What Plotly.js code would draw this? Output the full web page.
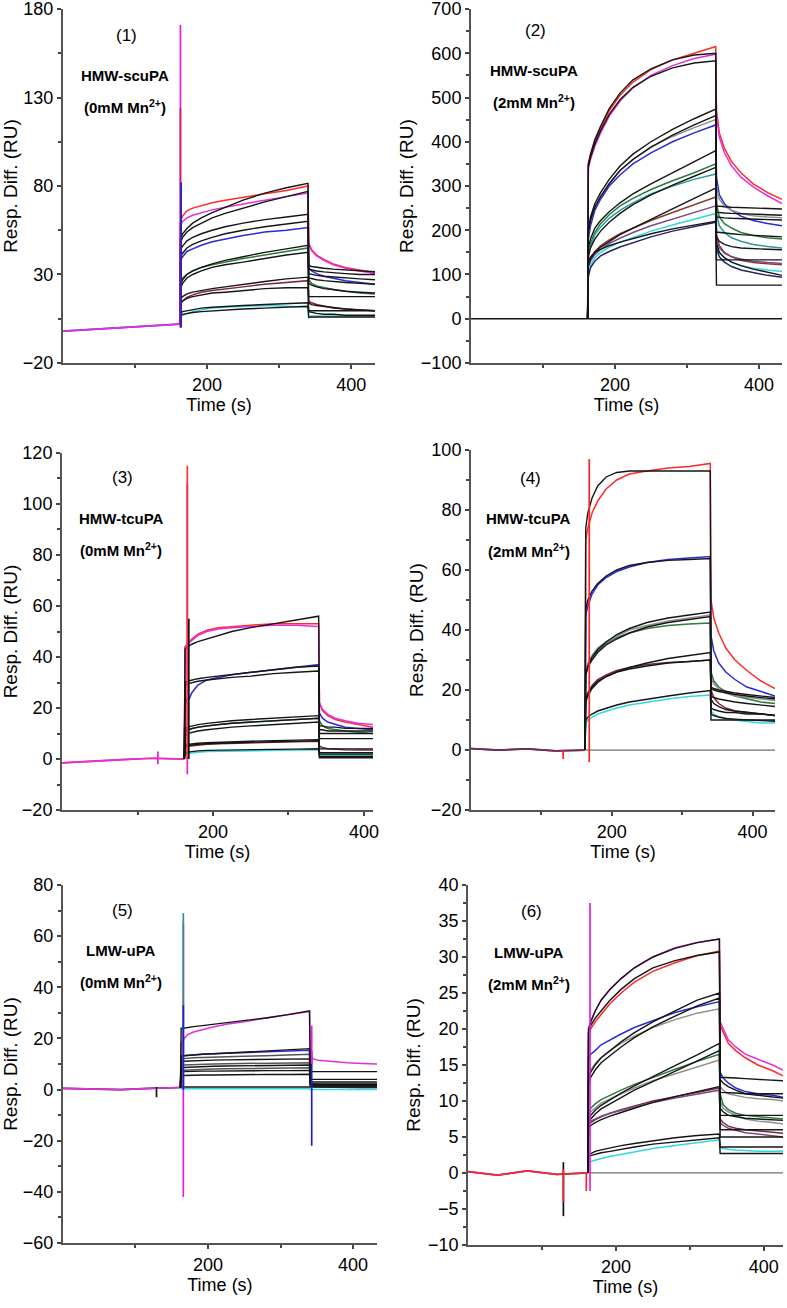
<!DOCTYPE html>
<html>
<head>
<meta charset="utf-8">
<script src="https://cdn.plot.ly/plotly-3.0.1.min.js"></script>
<style>
  body { margin: 0; background: #fff; }
  #chart { width: 787px; height: 1308px; }
</style>
</head>
<body>
<div id="chart"></div>
<script>
// shared sample times: association phase
var onT = [163, 166, 172, 180, 192, 207, 225, 250, 280, 310, 340];
var baseT = [0, 40, 80, 120, 162];

// ---- panel 1 : HMW-scuPA, 0mM Mn
var off1T = [341, 345, 352, 362, 375, 392, 412, 433];
var base1 = [-2, -1, -0.3, 0.8, 2];
var p1Red = [60, 63, 66, 67.5, 69, 70.5, 72, 73.5, 75.5, 77.5, 80];
var p1RedOff = [48, 44, 41, 38.5, 36, 34, 32.5, 31];
var p1Mag = [58, 60, 62, 63.5, 65, 66.5, 68, 70, 72, 74, 76];
var p1MagOff = [47, 43.5, 40.5, 38, 35.5, 33.5, 32, 30.5];
var p1Blue = [38, 40, 43, 44.5, 46.5, 48.5, 50, 52, 54, 55, 56.5];
var p1BlueOff = [34, 32, 30.5, 29, 28, 26.5, 25.5, 24.5];
var p1Green = [26, 28, 30, 32, 34, 35.5, 37, 39, 41, 43, 45];
var p1GreenOff = [27, 25, 23.5, 22.5, 21.5, 20.5, 19.5, 19];
var p1Maroon = [13, 15, 17, 18.5, 20, 21, 22, 23, 24.5, 25.5, 26.5];
var p1MaroonOff = [15, 14, 13, 12, 11, 10.5, 10, 9.5];
var p1Cyan = [6, 7, 8, 9, 10, 11, 11.5, 12, 12.5, 12, 11.5];
var p1CyanOff = [5.5, 6.5, 6.5, 6.5, 6.5, 6.5, 6.5, 6.5];
var p1Fits = [
  [50, 53, 56, 59, 62, 65, 68, 72, 76, 79, 81.5], [35, 34.5, 34, 33.5, 33, 32.5, 32, 31.5],
  [48, 51, 54, 56.5, 59, 62, 64.5, 67.5, 71, 74, 77], [33, 32.5, 32, 31.5, 31, 30.5, 30, 30],
  [44, 46, 49, 51, 53, 55, 57, 59, 61, 62.5, 64], [30.5, 30, 29.5, 29, 28.5, 28, 27.5, 27],
  [40, 42, 45, 47, 49, 51, 53, 55, 57, 58.5, 60], [28, 27.5, 27, 26.5, 26, 25.5, 25, 24.5],
  [24, 27, 30, 32, 34, 36, 38, 40, 42.5, 44.5, 46.5], [25, 24, 23, 22, 21.5, 20.5, 20, 19.5],
  [22, 25, 28, 30, 32, 34, 35.5, 37, 39, 41, 42.5], [17.5, 17.5, 17.5, 17.5, 17.5, 17.5, 17.5, 17.5],
  [16, 17.5, 19, 20, 21, 22, 23, 24.5, 26, 27.5, 28.5], [14, 13, 12.5, 12, 11, 10.5, 10, 9.5],
  [14, 15, 16.5, 17.5, 18.5, 19.5, 20, 21, 22, 22.5, 22.5], [9.5, 9.5, 9.5, 9.5, 9.5, 9.5, 9.5, 9.5],
  [8, 9, 9.5, 10, 11, 11.5, 12, 12.5, 13, 13.5, 14], [9, 8.5, 8, 7.5, 7.5, 7, 7, 7],
  [7, 7.5, 8, 8.5, 9, 9.5, 10, 10.5, 11, 11.5, 12], [6, 6, 6, 6, 6, 6, 6, 6]
];

// ---- panel 2 : HMW-scuPA, 2mM Mn
var off2T = [341, 345, 352, 362, 375, 392, 412, 432];
var p2Red = [350, 370, 400, 430, 470, 505, 535, 563, 585, 600, 615];
var p2RedOff = [470, 420, 385, 355, 330, 305, 285, 270];
var p2Mag = [340, 360, 390, 420, 458, 492, 522, 550, 572, 588, 598];
var p2MagOff = [460, 410, 375, 345, 320, 298, 278, 260];
var p2Blue = [180, 210, 245, 270, 300, 325, 350, 375, 400, 420, 438];
var p2BlueOff = [320, 280, 260, 245, 232, 222, 215, 210];
var p2Gray = [195, 222, 252, 276, 305, 335, 360, 388, 412, 432, 450];
var p2GrayOff = [300, 270, 255, 245, 238, 233, 230, 228];
var p2Green = [150, 170, 195, 215, 235, 255, 272, 292, 312, 330, 350];
var p2GreenOff = [260, 230, 215, 205, 195, 188, 183, 180];
var p2Teal = [145, 165, 190, 207, 227, 245, 262, 282, 300, 315, 327];
var p2TealOff = [240, 210, 195, 183, 175, 168, 163, 160];
var p2Brown = [120, 135, 152, 165, 178, 192, 205, 222, 240, 258, 275];
var p2BrownOff = [190, 165, 150, 140, 132, 127, 124, 122];
var p2Purple = [115, 130, 145, 157, 170, 182, 195, 210, 225, 240, 255];
var p2PurpleOff = [180, 160, 148, 140, 135, 130, 127, 125];
var p2Cyan = [100, 120, 138, 150, 162, 173, 184, 198, 212, 225, 238];
var p2CyanOff = [170, 150, 138, 128, 120, 114, 110, 107];
var p2Navy = [95, 115, 130, 142, 152, 162, 172, 185, 198, 208, 218];
var p2NavyOff = [160, 140, 128, 118, 110, 104, 98, 94];
var p2Fits = [
  [350, 372, 405, 435, 475, 510, 540, 565, 585, 596, 600], [255, 254, 253, 252, 251, 250, 249, 248],
  [345, 365, 395, 425, 462, 495, 523, 548, 567, 578, 583], [241, 240, 239, 238, 237, 236, 235, 234],
  [200, 230, 260, 285, 315, 345, 372, 400, 428, 452, 474], [230, 229, 228, 227, 226, 225, 224, 223],
  [195, 222, 252, 276, 305, 335, 360, 388, 415, 438, 459], [196, 195, 193, 192, 190, 188, 186, 185],
  [160, 180, 205, 222, 242, 262, 282, 305, 330, 355, 380], [133, 133, 133, 133, 133, 133, 133, 133],
  [140, 160, 180, 198, 218, 238, 258, 280, 302, 322, 342], [185, 175, 168, 163, 160, 158, 157, 156],
  [120, 135, 150, 162, 175, 190, 205, 225, 248, 272, 295], [170, 150, 138, 128, 120, 112, 105, 98],
  [130, 140, 150, 157, 165, 173, 181, 192, 203, 212, 220], [76, 76, 76, 76, 76, 76, 76, 76]
];

// ---- panel 3 : HMW-tcuPA, 0mM Mn
var off3T = [341, 345, 352, 362, 375, 392, 412];
var base3 = [-1.5, -0.8, -0.2, 0.3, 0];
var p3Red = [44, 45, 47, 49, 50.5, 51.5, 52, 52.5, 53, 53, 53];
var p3RedOff = [22, 19, 17, 15.5, 14.5, 13.5, 12.5];
var p3Mag = [44, 45, 46.5, 48.5, 50, 51, 51.5, 52, 52.5, 52.5, 52];
var p3MagOff = [22, 19.5, 17.5, 16, 15, 14, 13.5];
var p3Blue = [24, 22, 26, 29, 31, 32, 33, 34, 35, 36, 37];
var p3BlueOff = [18, 16, 14.5, 13.5, 12.5, 12, 11.5];
var p3Green = [10, 11, 12, 12.5, 13, 13.5, 14, 14.5, 15, 15.5, 16];
var p3GreenOff = [15, 13, 12, 11.5, 11, 10.5, 10];
var p3Maroon = [4.5, 5, 5.2, 5.5, 5.8, 6, 6.2, 6.4, 6.6, 6.8, 7];
var p3MaroonOff = [5, 4.5, 4, 3.8, 3.6, 3.5, 3.5];
var p3Cyan = [2, 2.2, 2.5, 2.7, 3, 3.1, 3.2, 3.3, 3.4, 3.5, 3.5];
var p3CyanOff = [1.5, 1.5, 1.5, 1.5, 1.5, 1.5, 1.5];
var p3Fits = [
  [43, 44, 45, 46, 47, 48.5, 50, 51.5, 53, 54.5, 56], [13, 13, 12.5, 12.5, 12, 12, 12],
  [30, 30.5, 31, 31.5, 32, 32.5, 33, 34, 35, 36, 36.5], [11.5, 11.5, 11, 11, 11, 11, 11],
  [29, 29.5, 30, 30.5, 31, 31.5, 32, 32.5, 33.5, 34, 34.5], [10, 10, 10, 10, 10, 10, 10],
  [12, 12.5, 13, 13.5, 14, 14.5, 15, 15.5, 16, 16.5, 17], [8, 8, 8, 8, 8, 8, 8],
  [11, 11.5, 12, 12.5, 13, 13.5, 14, 14.5, 15, 15.5, 16], [4, 4, 4, 4, 4, 4, 4],
  [9, 10, 10.5, 11, 11.5, 12, 12.5, 13, 13.5, 14, 14.5], [2.5, 2.5, 2.5, 2.5, 2.5, 2.5, 2.5],
  [5, 5.2, 5.5, 5.8, 6, 6.2, 6.4, 6.6, 6.8, 7, 7.2], [2, 2, 2, 2, 2, 2, 2],
  [2.5, 2.7, 3, 3.2, 3.4, 3.5, 3.6, 3.7, 3.8, 3.9, 4], [1, 1, 1, 1, 1, 1, 1],
  [5.5, 5.7, 6, 6.2, 6.4, 6.6, 6.8, 7, 7.2, 7.4, 7.6], [0.5, 0.5, 0.5, 0.5, 0.5, 0.5, 0.5]
];

// ---- panel 4 : HMW-tcuPA, 2mM Mn
var off4T = [341, 345, 352, 362, 375, 392, 412, 432];
var base4 = [0.5, 0, 0.4, -0.3, 0];
var p4Red = [70, 74, 79, 83, 87, 90, 92, 93, 94, 94.5, 95.5];
var p4RedOff = [50, 44, 39, 34, 30, 26.5, 23, 20.5];
var p4Blue = [45, 48, 52, 55, 57.5, 59.5, 61, 62.5, 63.5, 64, 64.5];
var p4BlueOff = [38, 33, 29, 26, 23.5, 21, 19.5, 18];
var p4Green = [26, 28, 31, 33, 35.5, 37.5, 39, 40.5, 41.5, 42, 42.3];
var p4GreenOff = [26, 23, 21, 19.5, 18, 17, 16, 15.5];
var p4Gray = [27, 29, 31.5, 34, 36, 38, 40, 41.5, 43, 44, 45];
var p4GrayOff = [24, 22, 20.5, 19, 18, 17.5, 17, 16.5];
var p4Maroon = [17, 19, 21.5, 23.5, 25, 26.5, 27.5, 28.5, 29.2, 29.5, 30];
var p4MaroonOff = [20, 17.5, 15.5, 14, 13, 12.5, 12, 11.5];
var p4Cyan = [9, 10, 11, 12, 13, 14, 15, 16, 17, 17.8, 18.3];
var p4CyanOff = [13, 12, 11, 10.5, 10, 9.5, 9, 9];
var p4Fits = [
  [74, 79, 84, 88, 91, 92.5, 93, 93, 93, 93, 93], [10, 10, 10, 10, 10, 10, 10, 10],
  [47, 50, 53, 55.5, 58, 60, 61.5, 62.5, 63.2, 63.5, 63.8], [21, 20.5, 20, 19.5, 19, 18.5, 18, 17.5],
  [25, 28, 31, 33.5, 36, 38.5, 40.5, 42.5, 44, 45, 46], [20.5, 20, 19.5, 19, 18.5, 18, 17.5, 17],
  [25, 27.5, 30, 32.5, 35, 37, 39, 41, 42.5, 43.5, 44.5], [18, 17.5, 17, 16.5, 16, 15.5, 15, 14.5],
  [16, 18, 20.5, 22.5, 24.5, 26, 27.5, 29, 30.5, 31.5, 32.5], [14, 13.5, 13, 12.5, 12.5, 12, 12, 11.5],
  [17, 19, 21, 23, 24.5, 26, 27, 28, 29, 29.5, 30], [17, 15.5, 14.5, 13.5, 13, 12.5, 12, 11.5],
  [10, 11, 12, 13, 14, 15, 16, 17, 18, 19, 19.8], [12, 11.5, 11, 10.5, 10.3, 10, 9.8, 9.6]
];

// ---- panel 5 : LMW-uPA, 0mM Mn
var off5T = [341, 345, 352, 362, 375, 392, 412, 433];
var base5 = [0.5, 0.3, 0, 0.5, 0.8];
var p5Mag = [18, 19.5, 21.5, 22.5, 23.5, 24.5, 25.5, 26.5, 28, 29.3, 30.5];
var p5MagOff = [13, 12, 11.5, 11.2, 11, 10.5, 10.2, 10];
var p5Blue = [13, 13.2, 13.4, 13.6, 13.8, 14, 14.2, 14.5, 14.8, 15.1, 15.4];
var p5BlueOff = [3, 2, 1.5, 1.5, 1.2, 1, 1, 1];
var p5Gray1 = [12, 12.1, 12.3, 12.4, 12.5, 12.7, 12.8, 13, 13.2, 13.5, 13.8];
var p5Gray1Off = [2.5, 2.2, 2, 2, 1.8, 1.8, 1.6, 1.5];
var p5Gray2 = [9.5, 9.6, 9.7, 9.8, 9.9, 10, 10.1, 10.2, 10.3, 10.4, 10.5];
var p5Gray2Off = [2, 1.8, 1.6, 1.5, 1.4, 1.3, 1.2, 1.2];
var p5Gray3 = [7.5, 7.6, 7.7, 7.8, 7.9, 8, 8.1, 8.2, 8.3, 8.4, 8.5];
var p5Gray3Off = [1.5, 1.2, 1, 1, 0.8, 0.8, 0.7, 0.7];
var p5Cyan = [0.3, 0.3, 0.3, 0.3, 0.3, 0.3, 0.3, 0.3, 0.3, 0.3, 0.3];
var p5CyanOff = [0, 0, 0, 0, 0, 0, 0, 0];
var p5Fits = [
  [24, 24, 24.3, 24.6, 25, 25.5, 26, 27, 28, 29.3, 30.8], [7, 7, 7, 7, 7, 7, 7, 7],
  [13, 13.2, 13.4, 13.6, 13.8, 14, 14.3, 14.6, 15, 15.5, 16], [4, 4, 4, 4, 4, 4, 4, 4],
  [11, 11.1, 11.2, 11.3, 11.4, 11.5, 11.6, 11.7, 11.8, 11.9, 12], [3, 3, 3, 3, 3, 3, 3, 3],
  [8.5, 8.6, 8.7, 8.8, 9, 9.1, 9.2, 9.3, 9.4, 9.5, 9.6], [2.5, 2.5, 2.5, 2.5, 2.5, 2.5, 2.5, 2.5],
  [7, 7, 7.1, 7.1, 7.2, 7.2, 7.3, 7.3, 7.4, 7.4, 7.5], [2, 2, 2, 2, 2, 2, 2, 2],
  [5.5, 5.5, 5.6, 5.6, 5.7, 5.7, 5.8, 5.8, 5.9, 5.9, 6], [1.5, 1.5, 1.5, 1.5, 1.5, 1.5, 1.5, 1.5],
  [1, 1, 1, 1, 1, 1, 1, 1, 1, 1, 1], [1, 1, 1, 1, 1, 1, 1, 1]
];

// ---- panel 6 : LMW-uPA, 2mM Mn
var off6T = [341, 345, 352, 362, 375, 392, 412, 426];
var base6 = [0.2, -0.3, 0.3, -0.2, 0];
var p6Mag = [20, 21, 22.5, 24, 25.5, 27, 28.5, 30, 31.3, 32, 32.5];
var p6MagOff = [21, 20, 18.5, 17.5, 16.5, 15.8, 15, 14.3];
var p6Red = [19.5, 20, 21, 22, 23.5, 25, 26.5, 28, 29.2, 30.2, 30.8];
var p6RedOff = [20.5, 19.5, 18, 17, 16, 15, 14.2, 13.5];
var p6Blue = [16, 16.5, 17, 17.8, 18.5, 19.3, 20.2, 21.2, 22.3, 23.1, 23.8];
var p6BlueOff = [14, 13.2, 12.5, 11.8, 11.3, 11, 10.8, 10.5];
var p6Gray = [13.5, 14.3, 15.2, 16, 17, 18, 19, 20.2, 21.3, 22.2, 22.8];
var p6GrayOff = [12, 11.5, 11, 10.8, 10.5, 10.3, 10.2, 10];
var p6Green = [8.5, 9, 9.6, 10.2, 10.8, 11.5, 12.3, 13.3, 14.4, 15.5, 16.5];
var p6GreenOff = [11, 9.5, 8.8, 8.3, 8, 7.8, 7.6, 7.5];
var p6Gray2 = [8, 8.5, 9, 9.7, 10.3, 11, 11.8, 12.8, 13.8, 14.8, 15.7];
var p6Gray2Off = [10, 9, 8.5, 8, 7.5, 7.2, 7, 6.8];
var p6Maroon = [6.5, 7, 7.4, 7.8, 8.3, 8.8, 9.3, 10, 10.6, 11.2, 11.8];
var p6MaroonOff = [7.5, 7, 6.5, 6.2, 6, 5.8, 5.6, 5.5];
var p6Purple = [6.8, 7.2, 7.5, 7.9, 8.3, 8.7, 9.2, 9.8, 10.4, 11, 11.5];
var p6PurpleOff = [7, 6.6, 6.2, 5.9, 5.6, 5.4, 5.2, 5];
var p6Cyan = [1.5, 1.6, 1.8, 2, 2.3, 2.6, 3, 3.4, 3.8, 4.2, 4.6];
var p6CyanOff = [3.5, 3.4, 3.3, 3.2, 3.1, 3, 3, 3];
var p6Fits = [
  [20, 21, 22.5, 24, 25.5, 27, 28.5, 30, 31.2, 32, 32.5], [13.3, 13.3, 13.2, 13.2, 13.1, 13, 12.9, 12.8],
  [19.5, 20.5, 21.5, 22.5, 24, 25.5, 27, 28.5, 29.5, 30.2, 30.7], [11.2, 11.2, 11.1, 11.1, 11, 11, 11, 11],
  [13, 14, 15, 16, 17, 18.2, 19.5, 21, 22.5, 24, 25], [13, 12.5, 12, 11.5, 11, 10.8, 10.6, 10.4],
  [12.5, 13.3, 14.3, 15.3, 16.3, 17.5, 18.8, 20.3, 21.8, 23.2, 24.3], [8, 8, 8, 8, 8, 8, 8, 8],
  [7.5, 8, 8.7, 9.4, 10.2, 11.1, 12.1, 13.4, 14.9, 16.4, 18], [9, 8.5, 8, 7.8, 7.6, 7.5, 7.4, 7.3],
  [7, 7.5, 8.2, 8.9, 9.6, 10.5, 11.5, 12.7, 14.1, 15.6, 17], [6, 6, 6, 6, 6, 6, 6, 6],
  [6.3, 6.6, 7, 7.4, 7.9, 8.4, 9, 9.8, 10.6, 11.3, 12], [5, 5, 5, 5, 5, 5, 5, 5],
  [2.5, 2.7, 3, 3.2, 3.5, 3.8, 4.1, 4.5, 4.9, 5.2, 5.4], [3.6, 3.6, 3.6, 3.6, 3.6, 3.6, 3.6, 3.6],
  [2.3, 2.4, 2.6, 2.8, 3, 3.3, 3.6, 4, 4.3, 4.6, 4.9], [2.7, 2.7, 2.7, 2.7, 2.7, 2.7, 2.7, 2.7]
];

// spikes: [time, bottom, top, colour] per panel
var spikes = {
  1: [[163, 0, 171, '#e020e0'], [163, 0, 124, '#d02060'], [164, 0, 82, '#2020c0']],
  2: [],
  3: [[166, -6, 108, '#e020e0'], [166, 0, 115, '#ff3030'], [168, 0, 55, '#111'], [127, -2, 3, '#e020e0']],
  4: [[168, -4, 97, '#ff2020'], [131, -3, 0, '#ff2020']],
  5: [[166, -42, 65, '#e020e0'], [166, 0, 69, '#2a9090'], [166, 0, 33, '#2020c0'], [343, -22, 15, '#2020c0'], [343, 10, 25, '#e020e0'], [129, -3, 1, '#111']],
  6: [[165, -2.5, 37.5, '#e020e0'], [129, -6, 1.5, '#111'], [129, -4, 0.5, '#ff2020'], [160, -2.5, 0, '#ff2020']]
};

var RED = '#ff2a2a', MAG = '#e030e0', BLUE = '#2a2ad8', GREEN = '#2e7a40', TEAL = '#2a9a9a',
    CYAN = '#30d8e0', MAROON = '#7a2a3a', PURPLE = '#7a4a8a', NAVY = '#24246a', GRAY = '#909090',
    BROWN = '#8a3a2a', FIT = '#151515';

var traces = [];
function ax(n) { return n > 1 ? String(n) : ''; }

function curve(n, offT, b, on, off, color, w) {
  traces.push({
    x: [162].concat(onT, offT), y: [b].concat(on, off),
    xaxis: 'x' + ax(n), yaxis: 'y' + ax(n),
    mode: 'lines', line: {color: color, width: w || 1.5}, hoverinfo: 'skip'
  });
}
function baseline(n, vals, color) {
  traces.push({
    x: baseT, y: vals, xaxis: 'x' + ax(n), yaxis: 'y' + ax(n),
    mode: 'lines', line: {color: color, width: 1.7}, hoverinfo: 'skip'
  });
}
function zeroLine(n, x0, x1, color) {
  traces.push({
    x: [x0, x1], y: [0, 0], xaxis: 'x' + ax(n), yaxis: 'y' + ax(n),
    mode: 'lines', line: {color: color, width: 1.3}, hoverinfo: 'skip'
  });
}
function fits(n, offT, b, list) {
  for (var i = 0; i < list.length; i += 2) curve(n, offT, b, list[i], list[i + 1], FIT, 1.4);
}
function addSpikes(n) {
  spikes[n].forEach(function (s) {
    traces.push({
      x: [s[0], s[0]], y: [s[1], s[2]], xaxis: 'x' + ax(n), yaxis: 'y' + ax(n),
      mode: 'lines', line: {color: s[3], width: 1.7}, hoverinfo: 'skip'
    });
  });
}

// panel 1
baseline(1, base1, BLUE); baseline(1, base1, MAG);
curve(1, off1T, 2, p1Red, p1RedOff, RED);
curve(1, off1T, 2, p1Mag, p1MagOff, MAG);
curve(1, off1T, 2, p1Blue, p1BlueOff, BLUE);
curve(1, off1T, 2, p1Green, p1GreenOff, GREEN);
curve(1, off1T, 2, p1Maroon, p1MaroonOff, MAROON);
curve(1, off1T, 2, p1Cyan, p1CyanOff, CYAN);
fits(1, off1T, 2, p1Fits);
addSpikes(1);

// panel 2
zeroLine(2, 0, 432, FIT);
curve(2, off2T, 0, p2Red, p2RedOff, RED);
curve(2, off2T, 0, p2Mag, p2MagOff, MAG);
curve(2, off2T, 0, p2Blue, p2BlueOff, BLUE);
curve(2, off2T, 0, p2Gray, p2GrayOff, GRAY);
curve(2, off2T, 0, p2Green, p2GreenOff, GREEN);
curve(2, off2T, 0, p2Teal, p2TealOff, TEAL);
curve(2, off2T, 0, p2Brown, p2BrownOff, BROWN);
curve(2, off2T, 0, p2Purple, p2PurpleOff, PURPLE);
curve(2, off2T, 0, p2Cyan, p2CyanOff, CYAN);
curve(2, off2T, 0, p2Navy, p2NavyOff, NAVY);
fits(2, off2T, 0, p2Fits);

// panel 3
baseline(3, base3, RED); baseline(3, base3, MAG);
curve(3, off3T, 0, p3Red, p3RedOff, RED);
curve(3, off3T, 0, p3Mag, p3MagOff, MAG);
curve(3, off3T, 0, p3Blue, p3BlueOff, BLUE);
curve(3, off3T, 0, p3Green, p3GreenOff, GREEN);
curve(3, off3T, 0, p3Maroon, p3MaroonOff, MAROON);
curve(3, off3T, 0, p3Cyan, p3CyanOff, CYAN);
fits(3, off3T, 0, p3Fits);
addSpikes(3);

// panel 4
zeroLine(4, 163, 432, '#707070');
baseline(4, base4, BLUE); baseline(4, base4, MAROON);
curve(4, off4T, 0, p4Red, p4RedOff, RED);
curve(4, off4T, 0, p4Blue, p4BlueOff, BLUE);
curve(4, off4T, 0, p4Green, p4GreenOff, GREEN);
curve(4, off4T, 0, p4Gray, p4GrayOff, GRAY);
curve(4, off4T, 0, p4Maroon, p4MaroonOff, MAROON);
curve(4, off4T, 0, p4Cyan, p4CyanOff, CYAN);
fits(4, off4T, 0, p4Fits);
addSpikes(4);

// panel 5
baseline(5, base5, FIT); baseline(5, base5, MAG);
curve(5, off5T, 0.8, p5Mag, p5MagOff, MAG);
curve(5, off5T, 0.8, p5Blue, p5BlueOff, BLUE);
curve(5, off5T, 0.8, p5Gray1, p5Gray1Off, '#555');
curve(5, off5T, 0.8, p5Gray2, p5Gray2Off, '#555');
curve(5, off5T, 0.8, p5Gray3, p5Gray3Off, '#555');
curve(5, off5T, 0.8, p5Cyan, p5CyanOff, CYAN);
fits(5, off5T, 0.8, p5Fits);
addSpikes(5);

// panel 6
zeroLine(6, 163, 426, '#707070');
baseline(6, base6, BLUE); baseline(6, base6, RED);
curve(6, off6T, 0, p6Mag, p6MagOff, MAG);
curve(6, off6T, 0, p6Red, p6RedOff, RED);
curve(6, off6T, 0, p6Blue, p6BlueOff, BLUE);
curve(6, off6T, 0, p6Gray, p6GrayOff, GRAY);
curve(6, off6T, 0, p6Green, p6GreenOff, GREEN);
curve(6, off6T, 0, p6Gray2, p6Gray2Off, GRAY);
curve(6, off6T, 0, p6Maroon, p6MaroonOff, MAROON);
curve(6, off6T, 0, p6Purple, p6PurpleOff, PURPLE);
curve(6, off6T, 0, p6Cyan, p6CyanOff, CYAN);
fits(6, off6T, 0, p6Fits);
addSpikes(6);

var FONT = 'Liberation Sans, Arial, sans-serif';

function xAxis(dom, max, anchor) {
  return {
    domain: dom, range: [0, max], anchor: anchor,
    tickvals: [200, 400], ticks: 'outside', ticklen: 4, tickwidth: 2, tickcolor: '#444',
    minor: {tickvals: [100, 300], ticks: 'outside', ticklen: 3, tickwidth: 2, tickcolor: '#444'},
    showline: true, linecolor: '#555', linewidth: 2, showgrid: false, zeroline: false,
    ticklabeloverflow: 'allow',
    tickfont: {family: FONT, size: 18, color: '#000'},
    title: {text: 'Time (s)', font: {family: FONT, size: 18, color: '#000'}, standoff: 2}
  };
}
function yAxis(dom, lo, hi, dt, minor, anchor) {
  return {
    domain: dom, range: [lo, hi], anchor: anchor, tick0: lo, dtick: dt,
    ticks: 'outside', ticklen: 4, tickwidth: 2, tickcolor: '#444',
    minor: {dtick: minor, tick0: lo, ticks: 'outside', ticklen: 3, tickwidth: 2, tickcolor: '#444'},
    showline: true, linecolor: '#555', linewidth: 2, showgrid: false, zeroline: false,
    ticklabeloverflow: 'allow',
    tickfont: {family: FONT, size: 18, color: '#000'},
    title: {text: 'Resp. Diff. (RU)', font: {family: FONT, size: 19, color: '#000'}, standoff: 2}
  };
}

var labels = [
  ['x', 'y', 0.205, 0.925, '(1)', 'HMW-scuPA', '(0mM Mn<sup>2+</sup>)'],
  ['x2', 'y2', 0.206, 0.938, '(2)', 'HMW-scuPA', '(2mM Mn<sup>2+</sup>)'],
  ['x3', 'y3', 0.196, 0.93, '(3)', 'HMW-tcuPA', '(0mM Mn<sup>2+</sup>)'],
  ['x4', 'y4', 0.195, 0.922, '(4)', 'HMW-tcuPA', '(2mM Mn<sup>2+</sup>)'],
  ['x5', 'y5', 0.19, 0.93, '(5)', 'LMW-uPA', '(0mM Mn<sup>2+</sup>)'],
  ['x6', 'y6', 0.2, 0.925, '(6)', 'LMW-uPA', '(2mM Mn<sup>2+</sup>)']
];
var annotations = [];
labels.forEach(function (l) {
  var base = {xref: l[0] + ' domain', yref: l[1] + ' domain', xanchor: 'center', yanchor: 'middle', showarrow: false};
  annotations.push(Object.assign({x: l[2], y: l[3], text: l[4],
    font: {family: FONT, size: 17, color: '#000'}}, base));
  annotations.push(Object.assign({x: l[2] - 0.005, y: l[3] - 0.113, text: '<b>' + l[5] + '</b>',
    font: {family: FONT, size: 15, color: '#000'}}, base));
  annotations.push(Object.assign({x: l[2] - 0.005, y: l[3] - 0.2, text: '<b>' + l[6] + '</b>',
    font: {family: FONT, size: 15, color: '#000'}}, base));
});

var layout = {
  width: 787, height: 1308,
  margin: {l: 0, r: 0, t: 0, b: 0},
  paper_bgcolor: '#fff', plot_bgcolor: '#fff',
  showlegend: false,
  font: {family: FONT},
  xaxis: xAxis([0.080, 0.4765], 433, 'y'),
  yaxis: yAxis([0.7225, 0.9931], -20, 180, 50, 25, 'x'),
  xaxis2: xAxis([0.5985, 0.9936], 432, 'y2'),
  yaxis2: yAxis([0.7225, 0.9931], -100, 700, 100, 50, 'x2'),
  xaxis3: xAxis([0.0788, 0.474], 412, 'y3'),
  yaxis3: yAxis([0.3807, 0.6537], -20, 120, 20, 10, 'x3'),
  xaxis4: xAxis([0.5985, 0.9848], 432, 'y4'),
  yaxis4: yAxis([0.3807, 0.656], -20, 100, 20, 10, 'x4'),
  xaxis5: xAxis([0.080, 0.479], 433, 'y5'),
  yaxis5: yAxis([0.0497, 0.3234], -60, 80, 20, 10, 'x5'),
  xaxis6: xAxis([0.5947, 0.9949], 426, 'y6'),
  yaxis6: yAxis([0.0482, 0.3234], -10, 40, 5, 2.5, 'x6'),
  annotations: annotations
};

Plotly.newPlot('chart', traces, layout, {displayModeBar: false, staticPlot: true});
</script>
</body>
</html>
